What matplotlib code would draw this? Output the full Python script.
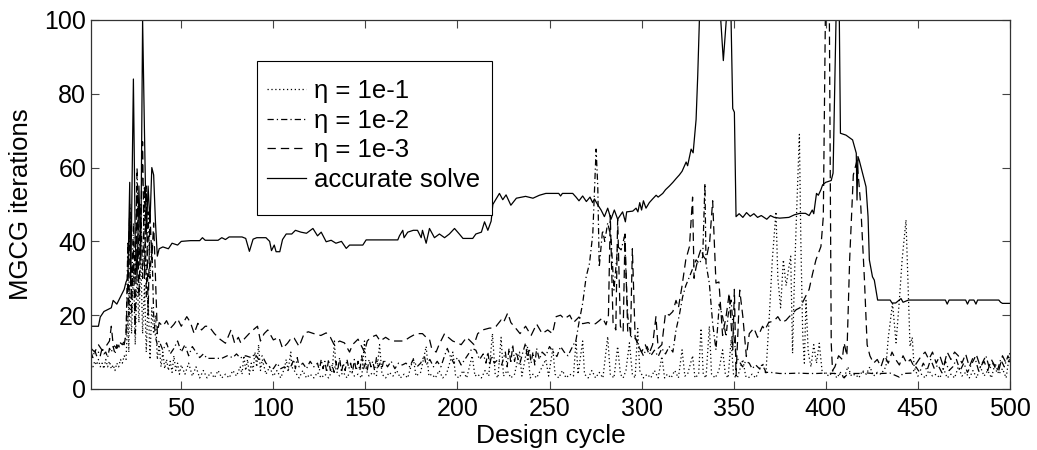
import matplotlib
matplotlib.use('Agg')
import matplotlib.pyplot as plt
from matplotlib.patches import Rectangle
import numpy as np

# (design cycle, MGCG iterations)
acc = [(1,17),(5,17),(6,19.5),(8,21),(10,21.5),(12,22),(13,24),(15,23),(17,25),(19,27),(20,29),(21,30),
	(22,56),(22.5,28),(23,45),(24,84),(25,40),(26,30),(27,55),(28,35),(29,100),(30,70),(31,42),(32,55),
	(33,45),(34,60),(35,58),(36,45),(37,36),(38,38),(40,38.5),(43,38),(45,39.5),(48,39),(50,40),(55,40.2),
	(60,40.2),(61.5,41),(63,40.3),(70,40.3),(72,41),(74,40.5),(76,41.2),(83,41.2),(85,40.8),(87,37.3),
	(89,40.6),(91,41),(96,41),(98,40),(99,37.5),(100.5,39),(101.5,37.2),(103.5,37.2),(105,40.5),(107,42),
	(110,42),(112,43),(115,42.5),(118,42.2),(121.5,43.5),(124,41.5),(126,42.5),(128.7,39.9),(131.4,40.3),
	(134,39.5),(137,40),(139.6,38.1),(141.4,39),(143,39),(148.6,39),(150.4,40.4),(167.6,40.4),(168.5,41.5),
	(170.3,43),(171,41),(173,42.5),(176,43),(178.3,43),(180.3,41),(181,43),(183,39.5),(184.8,43.5),
	(187.5,41),(190.2,42),(193,41),(195.6,42),(198.4,43.5),(201,42),(203,40.8),(208.3,40.8),(210,42),
	(213,42.5),(214.7,45.3),(216.5,43),(218.3,45.5),(219.2,50),(221,51.5),(222.8,53),(224.6,51.3),
	(226.4,52.6),(229,49.8),(232,51.7),(237,52.2),(241,51.7),(244.5,52.5),(248,53),(255,53),(256,52.3),
	(257,53),(262.6,53),(264.4,52),(266,51),(268,52.3),(270,50.8),(272,52),(273.4,50.5),(274.4,51.5),
	(276.2,49.9),(278,48.5),(279.8,46.7),(281.6,49),(283.4,46),(285.2,48.5),(287,46),(289.7,48),
	(291.2,45.3),(291.9,48),(295.2,48.2),(297,49),(298,48),(299,50.5),(300,48.5),(301,51),(302.4,49),
	(304.2,50.5),(306,51.5),(307.9,52.5),(309,52),(311.5,53),(313,54),(315.1,55),(317,56),(318.7,57),
	(320.5,58),(322,59),(324.2,61.5),(325,60.5),(326.9,65),(328,64),(328.7,68),(329.6,73),(330.5,85),
	(331.4,100),(343,100),(344.4,89),(346,100),(348.6,100),(349.5,76),(350.4,75),(351.3,46.7),(353,47.5),
	(355,46.5),(357,47.8),(359,46.8),(361,47.5),(363,46.5),(365,47),(368,46),(370,47),(372,46.5),
	(375,46.3),(380,46.5),(383,47.2),(386,47.6),(389,47.6),(391,47),(392.7,48.5),(393.5,47.5),(395,53),
	(396,52.5),(397.4,54),(398.3,55.3),(400,56),(403,56.5),(404,58.5),(405.6,100),(407.4,100),(408,69.3),
	(411,68.8),(414.6,67.5),(416.6,63.9),(417,51.2),(417.5,63),(418.2,62),(420,58.5),(421.9,54.8),
	(423,46.7),(423.7,35),(425.4,30.4),(426.4,29.5),(427.3,26.8),(428.2,24.1),(435,24.1),(436,23.3),
	(438,23.3),(440.9,24.5),(442,23.5),(445,24.1),(465,24.1),(466,23),(467,24.1),(476,24.1),(477,23),
	(478,24.1),(480.5,24.1),(481.6,23),(482.5,24.1),(494,24.1),(495,23.5),(496,23.2),(500,23.2)]

eta3 = [(1,11),(3,10),(5,12),(7,10.5),(9,11.5),(11,13),(12,17),(13,12),(15,11),(17,12.5),(19,12),(20,15),
	(21,30),(22,48),(23,20),(24,40),(25,15),(26,55),(27,25),(28,45),(29,67),(30,30),(31,55),(32,20),
	(33,48),(34,35),(35,45),(36,30),(37,15),(38,18),(40,17),(42,18.5),(44,16.4),(46,17.5),(48,19),(50,17),
	(53,19.6),(55,18),(57,15),(59,17.8),(61,16),(63,17),(65,17),(68,15),(71,13.5),(74,12.4),(77,16),
	(79,12.4),(81,14),(82.3,12.5),(85,14),(87.8,15.5),(91.4,17),(93,13),(95,15),(97,16),(100,13.3),
	(103,14),(105,11),(107.7,12.4),(110,14),(111.3,13.8),(114,11.5),(116.8,15.1),(119,15.5),(122,15),
	(125.8,14.5),(128.7,15.2),(131,14),(133,12),(136,13),(138.6,12.5),(141.4,10),(143,12),(146,13.5),
	(149.5,10),(151,13),(153,14),(155.9,14.6),(158,13),(161,14),(164,13),(171,13),(174,14),(177.6,15),
	(181,15),(183,14),(184.8,13.5),(186,11),(188.4,10),(190,12),(193,15),(195,14),(197.4,13),(200,12.5),
	(202,12),(205,14),(209,12),(211,15),(213.7,16),(217.4,16.5),(219.2,16.5),(221,17),(223.7,18.7),
	(225,18),(227.3,20.6),(229,18),(231.9,16.3),(234,15),(237,17),(240,14.5),(243,17.6),(246,15),(249,16),
	(251.6,15),(253.6,19.6),(256,20),(258,19),(261,20),(263,18),(266,19.5),(268,17.7),(271,18),(273,17.5),
	(275,17.7),(277,18.5),(278.8,19.3),(280.7,17.4),(282,20),(283,47),(284.5,18),(286,16),(287,46),
	(288.5,17),(290,15.5),(291,42),(292.5,15),(294,14.5),(295,38),(296.5,14),(298,12),(300,10),(302,12),
	(304,9.5),(306,12),(307.8,19.6),(309,11),(311,12),(313,20.6),(315,20),(317,21),(318.7,24),(320,22),
	(322,28),(324,35),(326,38.6),(327.7,52),(328.5,30),(329.6,33),(331,36),(332.3,38),(333.5,36),(335,35),
	(337,40),(338.6,51),(339.5,40),(340.4,28.7),(342,29),(344,14.5),(346,20),(347.6,26),(349.5,10.6),
	(350.4,27),(351.3,3.5),(352.3,15),(353.3,26.8),(355,19.6),(356.9,8.8),(358.5,15),(361,16.5),(363,14),
	(365.7,17),(367,16),(369,18),(372,18.5),(374,19.6),(376,18),(378.4,18.6),(380,19.5),(382,20.5),
	(384,21.5),(386,22),(389,25),(391,27),(392.9,31.3),(394.7,35),(397.4,38.6),(398.7,46.7),(399.8,100),
	(402,100),(403,12.4),(403.7,5),(405,6),(407,9),(409,8),(410,12.5),(411.5,9),(413,35),(415,58),(417,62),
	(419,50),(421,30),(422.5,12),(424,9),(426,7),(428,8),(430,6),(432,9),(434,7),(436,10),(438,8),
	(440,6.5),(442,9),(444,7),(446,8),(448,6),(450,7.5),(452,9),(454,10),(456,8),(458,10),(460,7),(462,9),
	(464,6),(466,10),(468,8),(470,10),(472,9),(474,7),(476,9.5),(478,6),(480,8.5),(482,9),(484,6),
	(486,7.5),(488,5),(490,8),(492,6),(494,5),(496,9),(498,7),(500,8)]

eta2 = [(1,10),(2,8.5),(3,10.5),(4,9),(5,10),(6,9),(7,11),(8,9.5),(9,10),(10,8.5),(11,11),(12,10),
	(13,11.5),(14,9.5),(15,12),(16,11),(17,12.5),(18,12),(19,13),(20,14),(21,40),(21.5,20),(22,50),(23,25),
	(24,45),(25,30),(26,60),(27,35),(28,50),(29,30),(30,55),(31,25),(32,48),(33,30),(34,40),(35,20),
	(36,14),(37,12),(38,13),(40,10.5),(42,12.5),(44,9.5),(46,11),(48,13),(50,10),(52,12),(54,9),(56,11.5),
	(58,10),(60,8.5),(62,9.5),(64,8.3),(68,8.3),(72,8.3),(75,9),(78,8.5),(80,9.5),(82,8.4),(85,9),
	(88,8.5),(90,9.5),(92,8),(94,9),(96,7),(98,6),(100,5.5),(102,7),(104,5.5),(106,6),(108,5.2),
	(110,6.5),(111,8),(112,5.5),(113,8.5),(114,6),(116,7),(118,5.5),(120,7.5),(122,6),(124,7),(125,5),
	(126,8),(127,5.5),(128,7.5),(129,4.5),(130,8),(131,5),(132,6.5),(133,4.5),(134,7.5),(135,5),
	(136,8.5),(137,4.5),(138,7),(139,5),(140,8),(141,5.5),(142,7),(143,4.5),(144,8),(145,5),(146,7.5),
	(147,5),(148,9),(149,5.5),(150,7),(151,5),(152,8),(153,6),(154,7.5),(155,5),(156,8.5),(157,6),
	(158,7),(159,5.5),(160,8),(162,6),(164,7.5),(166,5.5),(168,7),(170,6.5),(172,7),(174,6),(176,8),
	(178,6),(180,7),(182,9),(183,6.5),(185,8),(187,6),(189,7.5),(191,6),(193,9),(194.5,11),(196,9),
	(198,7),(200,8.5),(202,6.5),(204,8),(206,9.5),(208,11),(210,10.5),(212,8),(214,9.5),(215.5,7),
	(216.5,10),(217.5,6.5),(218.5,9),(220,7),(222,8),(224,6.5),(226,10),(227,6),(228,11),(229,7),
	(230,12),(231,7.5),(232,10),(233.7,6.5),(235,9),(237,12.5),(238,8),(239,11),(240,7),(241,10),
	(242,6.5),(243,11),(244.5,8),(246,10),(248,9),(250,11.5),(252,10),(254,8.8),(256,11.5),(258,10),
	(260,9),(262,11),(264.4,13.3),(266,18),(268,23.2),(269.9,30.4),(271.7,34),(273.5,42),(275.3,65),
	(276.2,55),(277,33),(278.8,43),(280,40),(281.6,45),(283.4,41),(285,26.8),(287,38.6),(288.9,37.7),
	(290.7,41.3),(292.5,19.6),(294.3,14.2),(297,13.5),(299,11),(301,9),(303,11.5),(305,9),(307,10.5),
	(309,8.8),(311,11),(313,9.5),(315,11.5),(317,10),(318.7,16),(320.5,20),(322.3,25),(324,28),
	(326,30.4),(328,33),(329.6,35),(331.4,34),(333.2,35.8),(334.4,55.7),(335,34),(336.8,28.6),
	(338.6,17.8),(340.4,10.6),(342.2,23),(344,19.6),(345.9,14.2),(347,20),(348.6,24.1),(350,15),
	(351.3,8.8),(353,7.5),(354.9,6),(356.5,7.5),(358.5,7),(360,5.5),(362,6.5),(364,5.5),(365.7,6.5),
	(367.6,4.5),(370,4.5),(375,4.2),(380,4.2),(385,4.3),(390,4.2),(395,4.2),(400,4.3),(405,4.2),(408,4),
	(410,3),(412,4.2),(418,4.2),(420,4.5),(425,4.2),(430,4.2),(435,4.3),(440,3.2),(442,4.2),(447,4.3),
	(449,6),(451,4.5),(453,7),(455,5),(457,8),(459,5.5),(461,6.5),(463,4.5),(465,7.5),(467,5),(469,6),
	(471,8),(473,5),(475,7),(477,4.5),(479,6.5),(481,8.5),(483,5),(485,7),(487,9),(489,5.5),(491,7),
	(493,4.5),(495,8),(497,6),(499,9),(500,7)]

eta1 = [(1,7),(2,6),(3,7.5),(4,6.5),(5,8),(6,6),(7,7),(8,5.5),(9,8),(10,6),(11,7.5),(12,5.5),(13,6.5),
	(14,5),(15,7),(16,6),(17,8),(18,7),(19,9),(20,8),(21,20),(21.5,10),(22,28),(23,15),(24,33),(25,12),
	(26,30),(27,18),(28,36),(29,15),(30,28),(31,10),(32,25),(33,8),(34,22),(35,15),(36,20),(37,8),(38,12),
	(39,6),(40,10),(41,5.5),(42,8),(43,5),(44,7.5),(45,4.5),(46,9),(47,5),(48,7),(49,4),(50,6.5),(52,4),
	(54,7),(56,3.5),(58,6),(60,3),(62,5),(64,3),(66,4.5),(68,3),(70,5),(72,3),(74,4),(76,3),(78,5),
	(80,3.5),(82,6),(83,4),(84,9),(85,5),(86,8),(87,4),(88,7),(89,5),(90,10),(91,6),(92,12),(93,5),(94,8),
	(96,4),(98,6),(100,3.5),(102,5),(104,3),(106,5.5),(107,8),(108,5),(109.5,10),(110,6),(112,4.5),
	(114,3),(116,5),(118,3),(120,4),(122,3),(124,4.5),(126,3),(128,4),(130,3),(132,5),(133.2,13),(134,5),
	(136,3.5),(138,4.5),(140,3),(142,5),(144,3.5),(146,4),(148,3),(149.5,13),(150.5,5),(152,3.5),
	(154,4.5),(156,3.5),(157.7,12),(159,4),(161,3),(163,4.5),(165,3.5),(167,5),(169,3),(171,4),(173,3),
	(176,8.4),(177.5,3.5),(180,4.5),(183,11.5),(184.5,3.5),(186,4),(188,3),(190,5),(192,3),(194,4),
	(197.5,10),(199,3.5),(201,3),(203,5),(205,3),(208,9),(209.5,3.5),(211,4),(213,3),(215,5),(217,3.5),
	(219,15),(220.5,4),(222,3),(223.7,14),(225,3.5),(227,5),(229,3),(231,4),(233.7,10),(235,3.5),
	(238,11.5),(239.5,3),(241,4),(243,3),(245,5),(248,8),(249.5,3.5),(251.8,11),(253,4),(255,3),(257,5),
	(259,3),(261,4),(263,3.5),(264.4,13),(265.5,4),(268,13),(269,4),(271,3),(273,5),(275,3),(277,4.5),
	(279,3),(281.6,14.2),(283,4),(285,3),(287,11.5),(288.5,4),(290,3),(291.5,5),(293.4,12.5),(295,4),
	(296.5,3),(297.9,16.4),(299,5),(301,3),(303,4),(305,3),(307,5),(309,3),(311,8.8),(312.5,3),(314,4),
	(316,3),(318,5),(320,3),(322,10.6),(323.5,3.5),(325,4),(327.7,9),(329,3),(331,4),(332.3,16.4),
	(333.5,4),(335,3),(336.8,17),(338,4),(340,3),(342,5),(344,10.6),(345.5,4),(347,3),(348.6,13.3),
	(350,3.5),(352,3),(355,8),(356.5,3.5),(358,3),(360,4),(362,3),(365.7,7),(367.5,4),(369.4,20),(371,35),
	(373,48),(374,30),(375.5,22),(377,35),(378.5,28),(380,33),(381,36),(382,9.7),(383,30),(384,45),
	(385.7,69),(386.5,40),(387.5,15),(388.4,7),(389.3,24),(390.5,10),(392,6),(393.5,12),(395,7),
	(396.5,12.4),(398,5),(400,4),(402,3.5),(404,5),(406,3),(408,4.5),(410,3),(412,6),(414,3.5),(416,4),
	(418,3),(420,5),(422,4),(424,6),(426,3.5),(428,4.5),(430,4),(432.7,6),(434,14),(436.3,23.2),
	(438.2,12.5),(440,24),(441.5,35),(443.6,45.8),(445.8,11.5),(447,14),(448,6),(450,3.5),(452,4),(454,3),
	(456,5),(458,3.5),(460,4),(462,3),(464,5.5),(466,3),(468,4),(470,3),(472,6),(474,3.5),(476,4.5),
	(478,3),(480,5),(482,3),(484,6),(486,3.5),(488,5),(490,3),(492,7),(494,4),(496,5.5),(498,3),(500,10)]

labels = ['\u03b7 = 1e-1', '\u03b7 = 1e-2', '\u03b7 = 1e-3', 'accurate solve']
xticks = [50, 100, 150, 200, 250, 300, 350, 400, 450, 500]
yticks = [0, 20, 40, 60, 80, 100]

plt.rcParams['font.family'] = ['Liberation Sans', 'DejaVu Sans']
plt.rcParams['lines.scale_dashes'] = False

fig = plt.figure(figsize=(10.37, 4.5), dpi=100)
ax = fig.add_axes([0.0878, 0.1356, 0.886, 0.82])

lw = 0.9
styles = [dict(dashes=(0.9, 1.9)), dict(dashes=(4.5, 2.2, 0.9, 2.2)), dict(dashes=(6, 3.6)), dict(ls='-')]
for data, lab, st in zip([eta1, eta2, eta3, acc], labels, styles):
	x, y = np.array(data).T
	ax.plot(x, y, color='k', lw=lw, label=lab, **st)

ax.set_xlim(1, 500)
ax.set_ylim(0, 100)
ax.set_xticks(xticks)
ax.set_yticks(yticks)
ax.tick_params(direction='in', length=6, width=0.8, top=True, right=True, labelsize=18, colors='#444444',
	labelcolor='k')
ax.tick_params(axis='x', pad=6)
for s in ax.spines.values():
	s.set_linewidth(0.9)
	s.set_color('#333333')
ax.set_xlabel('Design cycle', fontsize=19, labelpad=2)
ax.set_ylabel('MGCG iterations', fontsize=18.5, labelpad=8)

# legend box drawn by hand: MATLAB pads it more at top and bottom than at the sides
box = Rectangle((0.1806, 0.4715), 0.2557, 0.4175, transform=ax.transAxes, fill=True, facecolor='white',
	edgecolor='k', lw=0.8, zorder=4)
ax.add_patch(box)
leg = ax.legend(loc='upper left', bbox_to_anchor=(0.191, 0.84), borderaxespad=0, borderpad=0,
	fontsize=18.5, frameon=False, handlelength=1.55, handletextpad=0.3, labelspacing=0.22)
leg.set_zorder(5)

fig.savefig('out.png', dpi=100)
